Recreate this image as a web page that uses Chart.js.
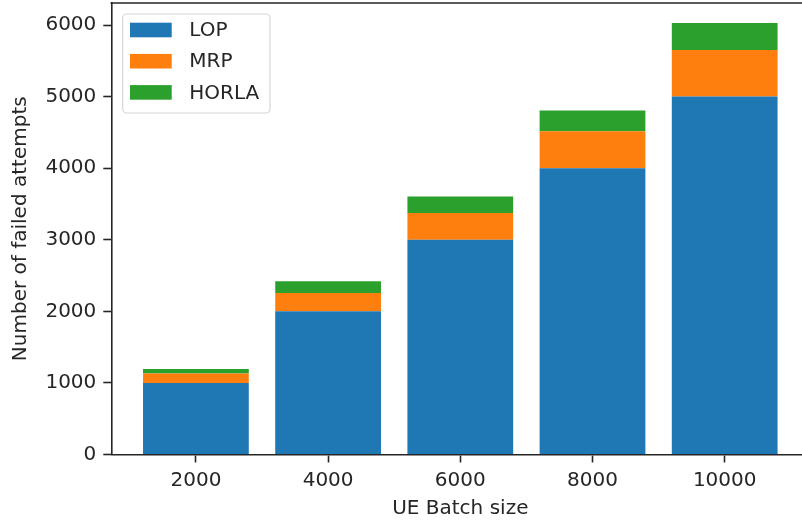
<!DOCTYPE html>
<html>
<head>
<meta charset="utf-8">
<script src="https://cdn.jsdelivr.net/npm/chart.js@4/dist/chart.umd.min.js"></script>
<style>
  html, body { margin: 0; padding: 0; overflow: hidden; background: #fff; width: 802px; height: 525px; }
  canvas { display: block; }
</style>
</head>
<body>
<canvas id="chart" width="812" height="525"></canvas>
<script>
// Failed attempts per UE batch size, stacked by scheme
const batchSizes = ['2000', '4000', '6000', '8000', '10000'];
const lopFailures = [1000, 2000, 3000, 4000, 5000];
const mrpFailures = [130, 255, 375, 515, 650];
const horlaFailures = [65, 165, 230, 290, 380];
const yTickValues = [0, 1000, 2000, 3000, 4000, 5000, 6000];
const yMax = 6308;

const FONT = 'DejaVu Sans';
const INK = '#262626';

const toPoints = (vals) => vals.map((v, i) => ({ x: i, y: v }));

// Top spine of the axes frame
const frameTop = {
  id: 'frameTop',
  afterDraw(chart) {
    const { ctx, chartArea } = chart;
    ctx.save();
    ctx.strokeStyle = INK;
    ctx.lineWidth = 1.6;
    ctx.beginPath();
    ctx.moveTo(chartArea.left - 0.8, chartArea.top);
    ctx.lineTo(chartArea.right, chartArea.top);
    ctx.stroke();
    ctx.restore();
  }
};

// Boxed legend in the upper-left corner of the plot
const boxedLegend = {
  id: 'boxedLegend',
  afterDraw(chart) {
    const { ctx, chartArea } = chart;
    const x0 = chartArea.left + 11.4;
    const y0 = chartArea.top + 11;
    const w = 147.3, h = 99, r = 4;
    ctx.save();
    ctx.beginPath();
    ctx.roundRect(x0, y0, w, h, r);
    ctx.fillStyle = 'rgba(255,255,255,0.8)';
    ctx.fill();
    ctx.strokeStyle = '#d6d6d6';
    ctx.lineWidth = 1.2;
    ctx.stroke();
    ctx.font = '20px "' + FONT + '"';
    ctx.textBaseline = 'middle';
    ctx.textAlign = 'left';
    chart.data.datasets.forEach((ds, i) => {
      const cy = y0 + 16 + i * 31.2;
      ctx.fillStyle = ds.backgroundColor;
      ctx.fillRect(x0 + 7.3, cy - 7.3, 41.7, 14.6);
      ctx.fillStyle = INK;
      ctx.fillText(ds.label, x0 + 66.6, cy + 1);
    });
    ctx.restore();
  }
};

new Chart(document.getElementById('chart'), {
  type: 'bar',
  data: {
    datasets: [
      { label: 'LOP', data: toPoints(lopFailures), backgroundColor: '#1f77b4' },
      { label: 'MRP', data: toPoints(mrpFailures), backgroundColor: '#ff7f0e' },
      { label: 'HORLA', data: toPoints(horlaFailures), backgroundColor: '#2ca02c' }
    ]
  },
  options: {
    responsive: false,
    animation: false,
    devicePixelRatio: 1,
    layout: { padding: { top: 3, right: 2.7, left: 0, bottom: 0 } },
    datasets: { bar: { barPercentage: 0.8, categoryPercentage: 1, borderWidth: 0 } },
    plugins: { legend: { display: false }, tooltip: { enabled: false } },
    scales: {
      x: {
        type: 'linear',
        min: -0.64,
        max: 4.64,
        stacked: true,
        offset: false,
        afterBuildTicks: (s) => { s.ticks = batchSizes.map((_, i) => ({ value: i })); },
        afterFit: (s) => { s.height = 70.5; s.paddingLeft = 0; s.paddingRight = 0; },
        ticks: {
          callback: (v) => batchSizes[v],
          font: { family: FONT, size: 20 },
          color: INK,
          padding: 6,
          maxRotation: 0,
          autoSkip: false
        },
        grid: { display: true, offset: false, drawOnChartArea: false, drawTicks: true, tickLength: 8, tickWidth: 1.6, tickColor: INK },
        border: { display: true, color: INK, width: 1.6 },
        title: { display: true, text: 'UE Batch size', font: { family: FONT, size: 20 }, color: INK, padding: { top: 0, bottom: 4 } }
      },
      y: {
        type: 'linear',
        min: 0,
        max: yMax,
        stacked: true,
        afterBuildTicks: (s) => { s.ticks = yTickValues.map((v) => ({ value: v })); },
        afterFit: (s) => { s.width = 111.3; s.paddingTop = 0; s.paddingBottom = 0; },
        ticks: {
          callback: (v) => String(v),
          font: { family: FONT, size: 20 },
          color: INK,
          padding: 7
        },
        grid: { display: true, drawOnChartArea: false, drawTicks: true, tickLength: 8, tickWidth: 1.6, tickColor: INK },
        border: { display: true, color: INK, width: 1.6 },
        title: { display: true, text: 'Number of failed attempts', font: { family: FONT, size: 20 }, color: INK, padding: { top: 9, bottom: 0 } }
      }
    }
  },
  plugins: [frameTop, boxedLegend]
});
</script>
</body>
</html>
